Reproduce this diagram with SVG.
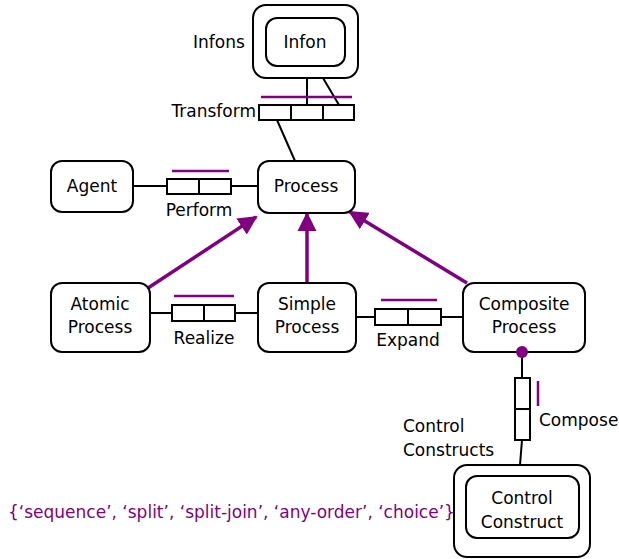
<svg xmlns="http://www.w3.org/2000/svg" width="619" height="559" viewBox="0 0 619 559">
  <defs>
    <style>
      .box { fill: #fff; stroke: #000; stroke-width: 2; }
      .cell { fill: #fff; stroke: #000; stroke-width: 2; }
      .ln { stroke: #000; stroke-width: 2; fill: none; }
      .bar { stroke: #800080; stroke-width: 2.5; fill: none; }
      .isa { stroke: #800080; stroke-width: 3.5; fill: none; marker-end: url(#tri); }
      text { font-family: "DejaVu Sans", Verdana, sans-serif; font-size: 17px; fill: #000; }
      .c { text-anchor: middle; }
      .set { fill: #800080; }
    </style>
    <marker id="tri" viewBox="0 0 10 10" refX="9" refY="5" markerWidth="5.5" markerHeight="5.5" markerUnits="strokeWidth" orient="auto">
      <path d="M0,0 L10,5 L0,10 z" fill="#800080"/>
    </marker>
  </defs>

  <!-- connectors -->
  <g id="connectors">
    <!-- Infon to Transform -->
    <line class="ln" x1="307" y1="78" x2="307" y2="105"/>
    <line class="ln" x1="323" y1="78" x2="339" y2="105"/>
    <line class="ln" x1="277" y1="120" x2="295" y2="161"/>
    <!-- Agent - Perform - Process -->
    <line class="ln" x1="133" y1="186" x2="167" y2="186"/>
    <line class="ln" x1="231" y1="186" x2="258" y2="186"/>
    <!-- Atomic - Realize - Simple -->
    <line class="ln" x1="150" y1="313" x2="172" y2="313"/>
    <line class="ln" x1="235" y1="313" x2="258" y2="313"/>
    <!-- Simple - Expand - Composite -->
    <line class="ln" x1="356" y1="317" x2="375" y2="317"/>
    <line class="ln" x1="441" y1="317" x2="463" y2="317"/>
    <!-- Composite - Compose - Control Construct -->
    <line class="ln" x1="522" y1="352" x2="522" y2="378"/>
    <line class="ln" x1="522" y1="440" x2="520" y2="465"/>
    <!-- specialisation arrows -->
    <line class="isa" x1="148" y1="288" x2="256" y2="217"/>
    <line class="isa" x1="307" y1="283" x2="307" y2="214"/>
    <line class="isa" x1="467" y1="283" x2="350" y2="212"/>
  </g>

  <!-- relation boxes -->
  <g id="transform">
    <line class="bar" x1="261" y1="97" x2="352" y2="97"/>
    <rect class="cell" x="259" y="105" width="32" height="15"/>
    <rect class="cell" x="291" y="105" width="32" height="15"/>
    <rect class="cell" x="323" y="105" width="31" height="15"/>
    <text x="256" y="117" text-anchor="end">Transform</text>
  </g>
  <g id="perform">
    <line class="bar" x1="172" y1="171" x2="229" y2="171"/>
    <rect class="cell" x="167" y="179" width="32" height="15"/>
    <rect class="cell" x="199" y="179" width="32" height="15"/>
    <text class="c" x="199" y="216">Perform</text>
  </g>
  <g id="realize">
    <line class="bar" x1="174" y1="296" x2="234" y2="296"/>
    <rect class="cell" x="172" y="305" width="32" height="16"/>
    <rect class="cell" x="204" y="305" width="31" height="16"/>
    <text class="c" x="204" y="344">Realize</text>
  </g>
  <g id="expand">
    <line class="bar" x1="381" y1="300" x2="437" y2="300"/>
    <rect class="cell" x="375" y="309" width="33" height="16"/>
    <rect class="cell" x="408" y="309" width="33" height="16"/>
    <text class="c" x="408" y="346">Expand</text>
  </g>
  <g id="compose">
    <line class="bar" x1="538" y1="381" x2="538" y2="406"/>
    <rect class="cell" x="515" y="378" width="15" height="31"/>
    <rect class="cell" x="515" y="409" width="15" height="31"/>
    <text x="539" y="426">Compose</text>
  </g>

  <!-- nodes -->
  <g id="infons">
    <rect class="box" x="253" y="5" width="105" height="73" rx="13"/>
    <rect class="box" x="266" y="18" width="79" height="48" rx="11"/>
    <text class="c" x="305" y="48">Infon</text>
    <text x="193" y="48">Infons</text>
  </g>
  <g id="agent">
    <rect class="box" x="51" y="161" width="82" height="51" rx="11"/>
    <text class="c" x="92" y="192">Agent</text>
  </g>
  <g id="process">
    <rect class="box" x="258" y="161" width="97" height="52" rx="11"/>
    <text class="c" x="306" y="192">Process</text>
  </g>
  <g id="atomic-process">
    <rect class="box" x="51" y="283" width="99" height="69" rx="11"/>
    <text class="c" x="100" y="310">Atomic</text>
    <text class="c" x="100" y="333">Process</text>
  </g>
  <g id="simple-process">
    <rect class="box" x="258" y="283" width="98" height="69" rx="11"/>
    <text class="c" x="307" y="310">Simple</text>
    <text class="c" x="307" y="333">Process</text>
  </g>
  <g id="composite-process">
    <rect class="box" x="463" y="283" width="122" height="69" rx="11"/>
    <text class="c" x="524" y="310">Composite</text>
    <text class="c" x="524" y="333">Process</text>
    <!-- composition port -->
    <circle cx="522" cy="352" r="6" fill="#800080"/>
  </g>
  <g id="control-constructs">
    <rect class="box" x="454" y="465" width="136" height="92" rx="13"/>
    <rect class="box" x="466" y="476" width="113" height="62" rx="11"/>
    <text class="c" x="522" y="504">Control</text>
    <text class="c" x="522" y="528">Construct</text>
    <text x="403" y="432">Control</text>
    <text x="403" y="456">Constructs</text>
  </g>
  <text class="set" x="8" y="518">{‘sequence’, ‘split’, ‘split-join’, ‘any-order’, ‘choice’}</text>
</svg>
